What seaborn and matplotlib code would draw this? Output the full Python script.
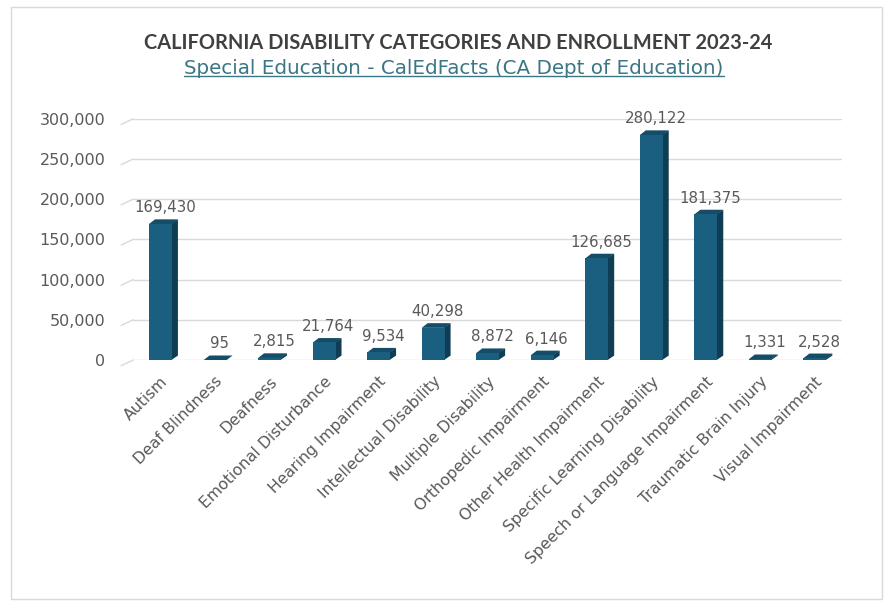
import matplotlib
matplotlib.use("Agg")
import matplotlib.pyplot as plt
import pandas as pd
import seaborn as sns
from matplotlib.patches import Polygon, Rectangle
from matplotlib.ticker import FuncFormatter


CATEGORIES = [
    "Autism",
    "Deaf Blindness",
    "Deafness",
    "Emotional Disturbance",
    "Hearing Impairment",
    "Intellectual Disability",
    "Multiple Disability",
    "Orthopedic Impairment",
    "Other Health Impairment",
    "Specific Learning Disability",
    "Speech or Language Impairment",
    "Traumatic Brain Injury",
    "Visual Impairment",
]
ENROLLMENT = [169430, 95, 2815, 21764, 9534, 40298, 8872, 6146, 126685, 280122, 181375, 1331, 2528]
Y_TICKS = [0, 50000, 100000, 150000, 200000, 250000, 300000]

TITLE = "CALIFORNIA DISABILITY CATEGORIES AND ENROLLMENT 2023-24"
SUBTITLE = "Special Education - CalEdFacts (CA Dept of Education)"

FRONT = "#1b5f80"
SIDE = "#0f3d54"
TOP = "#154d68"
TEXT = "#595959"
GRID = "#d9d9d9"

sns.set_style("white")
plt.rcParams["font.family"] = ["DejaVu Sans"]

df = pd.DataFrame({"category": CATEGORIES, "enrollment": ENROLLMENT})

fig = plt.figure(figsize=(8.94, 6.03), dpi=100)
ax = fig.add_axes([0.149, 0.403, 0.793, 0.400])

sns.barplot(data=df, x="category", y="enrollment", color=FRONT, width=0.42,
            saturation=1, linewidth=0, ax=ax, zorder=3)

# fake 3D depth: side and top faces built from each bar patch
depth_x, depth_y = 0.11, 5500
for patch in ax.patches[:]:
    patch.set_edgecolor("none")
    x0 = patch.get_x()
    x1 = x0 + patch.get_width()
    h = patch.get_height()
    side = Polygon([(x1 - 0.01, 0), (x1 + depth_x, depth_y), (x1 + depth_x, h + depth_y), (x1 - 0.01, h)],
                   closed=True, facecolor=SIDE, edgecolor="none", zorder=2.9)
    top = Polygon([(x0, h - 300), (x0 + depth_x, h + depth_y), (x1 + depth_x, h + depth_y), (x1, h - 300)],
                  closed=True, facecolor=TOP, edgecolor="none", zorder=2.9)
    ax.add_patch(side)
    ax.add_patch(top)

for i, v in enumerate(ENROLLMENT):
    ax.text(i + 0.08, v + depth_y + 5000, f"{v:,}", ha="center", va="bottom",
            fontsize=10.8, color=TEXT, zorder=4)

ax.set_ylim(0, 300000)
ax.set_xlim(-0.5, len(CATEGORIES) - 0.5)
ax.set_yticks(Y_TICKS)
ax.yaxis.set_major_formatter(FuncFormatter(lambda v, _: f"{int(v):,}"))
ax.grid(axis="y", color=GRID, linewidth=1, zorder=0)
ax.set_axisbelow(True)

# perspective stubs at the left end of each gridline
for t in Y_TICKS:
    ax.plot([-0.72, -0.5], [t - 7000, t], color=GRID, linewidth=1, clip_on=False, zorder=0)

for s in ax.spines.values():
    s.set_visible(False)
ax.set_xlabel("")
ax.set_ylabel("")
ax.tick_params(axis="y", length=0, pad=20, labelsize=11.5, labelcolor=TEXT)
ax.tick_params(axis="x", length=0, pad=10, labelsize=11.3, labelcolor=TEXT)
plt.setp(ax.get_xticklabels(), rotation=45, ha="right", rotation_mode="anchor")

fig.text(0.512, 0.928, TITLE, ha="center", va="center", fontsize=14.4,
         fontweight="bold", color="#404040", family="Lato")
sub = fig.text(0.508, 0.887, SUBTITLE, ha="center", va="center", fontsize=14.3,
               color="#3a7686")

# underline under the subtitle
fig.canvas.draw()
bb = sub.get_window_extent().transformed(fig.transFigure.inverted())
fig.add_artist(plt.Line2D([bb.x0, bb.x1], [bb.y0 + 0.002, bb.y0 + 0.002],
                          transform=fig.transFigure, color="#3a7686", linewidth=1))

fig.add_artist(Rectangle((0.012, 0.006), 0.975, 0.982, transform=fig.transFigure,
                         fill=False, edgecolor=GRID, linewidth=1))

fig.savefig("out.png", dpi=100)
